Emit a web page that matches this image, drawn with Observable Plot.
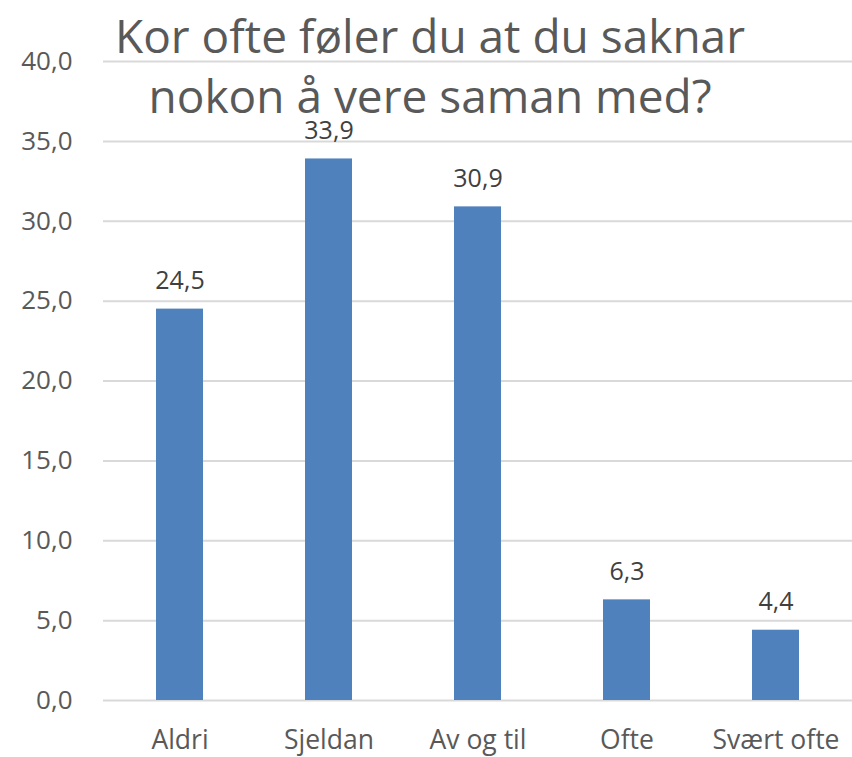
<!DOCTYPE html>
<html>
<head>
<meta charset="utf-8">
<script src="https://cdn.jsdelivr.net/npm/d3@7"></script>
<script src="https://cdn.jsdelivr.net/npm/@observablehq/plot@0.6"></script>
<style>
  html, body { margin: 0; padding: 0; background: #fff; }
  #wrap { position: relative; width: 852px; height: 757px; }
  #title {
    position: absolute; left: 0; top: 5px; width: 860px;
    text-align: center; font-family: "Open Sans", sans-serif;
    font-size: 46px; line-height: 60px; color: #595959;
    pointer-events: none;
  }
  svg text { font-family: "Open Sans", sans-serif; }
</style>
</head>
<body>
<div id="wrap">
  <div id="chart"></div>
  <div id="title">Kor ofte føler du at du saknar<br>nokon å vere saman med?</div>
</div>
<script>
const categories = ["Aldri", "Sjeldan", "Av og til", "Ofte", "Svært ofte"];
const values = [24.5, 33.9, 30.9, 6.3, 4.4];
const yTicks = [0, 5, 10, 15, 20, 25, 30, 35, 40];

const data = categories.map((c, i) => ({category: c, value: values[i]}));
const fmt = v => v.toFixed(1).replace(".", ",");

const chart = Plot.plot({
  width: 852,
  height: 757,
  marginLeft: 103,
  marginRight: 0,
  marginTop: 61,
  marginBottom: 57,
  style: {fontFamily: "'Open Sans', sans-serif", fontSize: "25px", color: "#595959", background: "#fff"},
  x: {domain: categories, paddingInner: 0.687, paddingOuter: 0.3435, label: null},
  y: {domain: [0, 40], label: null},
  marks: [
    Plot.gridY(yTicks, {stroke: "#d9d9d9", strokeOpacity: 1, strokeWidth: 2}),
    Plot.axisY(yTicks, {tickSize: 0, tickPadding: 31, tickFormat: fmt, fontSize: 26, fill: "#595959", label: null}),
    Plot.axisX({tickSize: 0, tickPadding: 30, fontSize: 26.5, fill: "#595959", label: null}),
    Plot.barY(data, {x: "category", y: "value", fill: "#4f81bd"}),
    Plot.text(data, {x: "category", y: "value", text: d => fmt(d.value), dy: -28, fontSize: 25, fill: "#404040"})
  ]
});
document.getElementById("chart").appendChild(chart);
</script>
</body>
</html>
